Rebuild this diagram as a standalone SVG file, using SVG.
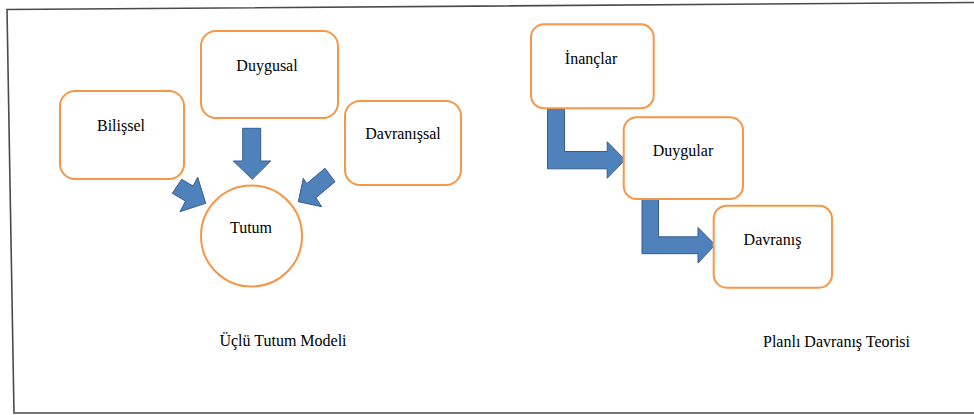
<svg xmlns="http://www.w3.org/2000/svg" width="974" height="415" viewBox="0 0 974 415">
<style>
.box{fill:#fff;stroke:#F79646;stroke-width:2}
.arr{fill:#4F81BD;stroke:#385D8A;stroke-width:1;stroke-linejoin:miter}
.t{font-family:"Liberation Serif","Times New Roman",serif;font-size:16px;fill:#000;text-anchor:middle}
.frame{fill:none;stroke:#4a4a4a;stroke-width:1.6}
</style>
<rect width="974" height="415" fill="#fff"/>
<polyline class="frame" points="974,2.5 7,9.5 14,413 974,413"/>

<g id="connectors">
<polygon class="arr" points="242.7,128.3 260.7,128.3 260.7,161 270.7,161 252.3,179.3 233.3,161 242.7,161"/>
<polygon class="arr" points="181.7,179.3 193.1,186.1 197.7,177.3 205.7,203.3 180,211.7 185.5,201.1 172.3,193.3"/>
<polygon class="arr" points="325,168.3 335,181.7 315.9,197.8 321.7,206.7 298.3,201.7 303.3,178.3 306.8,183.6"/>
<polygon class="arr" points="547.5,109.3 564.5,109.3 564.5,151.5 607.2,151.5 607.2,141.7 625,159.8 607.2,178.3 607.2,168.8 547.5,168.8"/>
<polygon class="arr" points="642,197.5 658.5,197.5 658.5,236.8 698,236.8 698,227.5 715.2,244.8 698,263 698,253.7 642,253.7"/>
</g>

<g id="bilissel"><rect class="box" x="60" y="91" width="124" height="88" rx="15"/><text class="t" x="121" y="131">Bilişsel</text></g>
<g id="duygusal"><rect class="box" x="201" y="31" width="137" height="87" rx="15"/><text class="t" x="267" y="71">Duygusal</text></g>
<g id="davranissal"><rect class="box" x="345" y="101" width="116" height="84" rx="15"/><text class="t" x="403" y="139">Davranışsal</text></g>
<g id="tutum"><circle class="box" cx="251.5" cy="236" r="50.5"/><text class="t" x="251" y="233">Tutum</text></g>
<g id="title1"><text class="t" x="283" y="346">Üçlü  Tutum Modeli</text></g>

<g id="inanclar"><rect class="box" x="531" y="24.3" width="122.7" height="84" rx="13"/><text class="t" x="591" y="64">İnançlar</text></g>
<g id="duygular"><rect class="box" x="623.7" y="117.3" width="119.3" height="81.7" rx="13"/><text class="t" x="683" y="156">Duygular</text></g>
<g id="davranis"><rect class="box" x="713.7" y="205.7" width="118.3" height="82" rx="13"/><text class="t" x="772.5" y="244.5">Davranış</text></g>
<g id="title2"><text class="t" x="836.5" y="347">Planlı Davranış Teorisi</text></g>
</svg>
